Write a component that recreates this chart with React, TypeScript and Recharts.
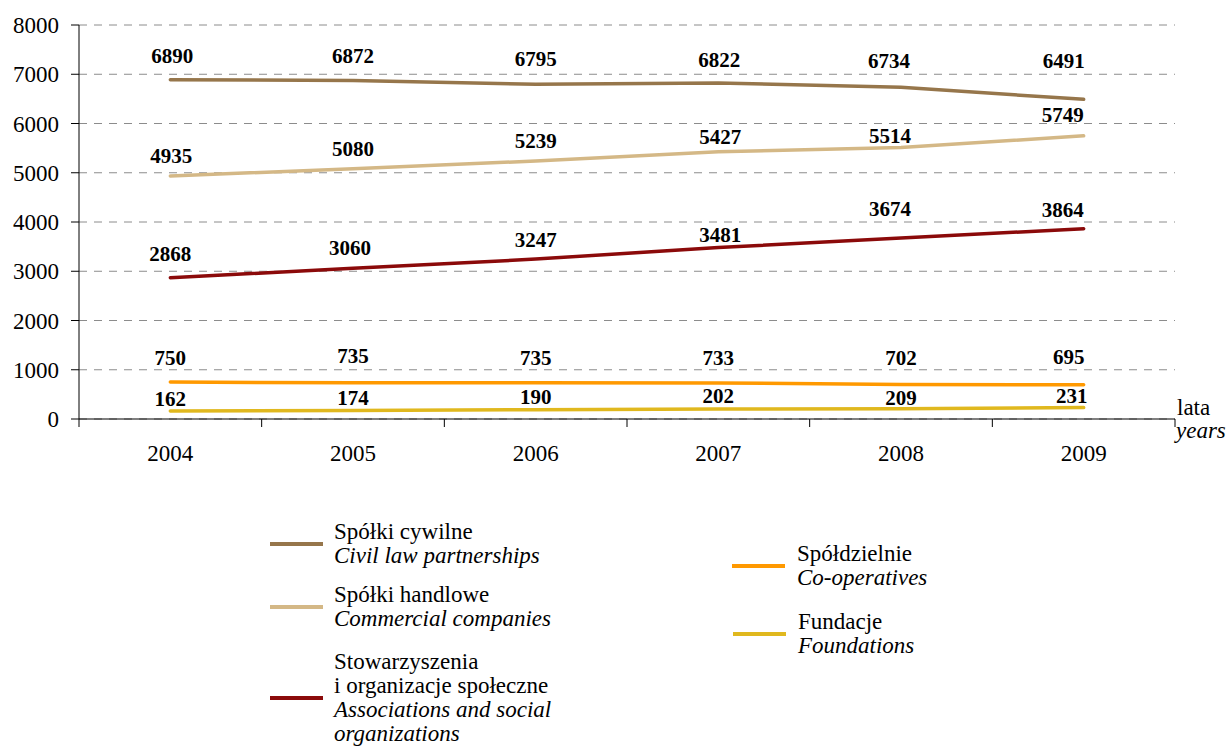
import { LineChart, Line, XAxis, YAxis, CartesianGrid, LabelList } from 'recharts'

const years = ['2004', '2005', '2006', '2007', '2008', '2009']
const civilPartnerships = [6890, 6872, 6795, 6822, 6734, 6491]
const commercialCompanies = [4935, 5080, 5239, 5427, 5514, 5749]
const associations = [2868, 3060, 3247, 3481, 3674, 3864]
const cooperatives = [750, 735, 735, 733, 702, 695]
const foundations = [162, 174, 190, 202, 209, 231]
const yTicks = [0, 1000, 2000, 3000, 4000, 5000, 6000, 7000, 8000]

const FONT = "'Liberation Serif', 'Times New Roman', serif"
const W = 1230
const H = 470
const MARGIN = { top: 25, right: 55, left: 19, bottom: 21 }
const Y_AXIS_W = 60
const PLOT_W = W - MARGIN.left - Y_AXIS_W - MARGIN.right
const BAND = PLOT_W / years.length

const data = years.map((year, i) => ({
  year,
  civil: civilPartnerships[i],
  commercial: commercialCompanies[i],
  assoc: associations[i],
  coop: cooperatives[i],
  found: foundations[i],
}))

// label nudges copied by eye from the original (it was hand-placed)
const series = [
  { key: 'civil', color: '#96764b', pl: 'Spółki cywilne', en: 'Civil law partnerships', gap: [17, 18, 18, 16, 19, 31], shift: [2, 0, 0, 1, -12, -20] },
  { key: 'commercial', color: '#d4b886', pl: 'Spółki handlowe', en: 'Commercial companies', gap: [13, 13, 13, 8, 4, 14], shift: [1, 0, 0, 2, -11, -21] },
  { key: 'assoc', color: '#8b0a0a', pl: 'Stowarzyszenia\ni organizacje społeczne', en: 'Associations and social\norganizations', gap: [17, 13, 12, 6, 22, 12], shift: [0, -3, 0, 2, -11, -21] },
  { key: 'coop', color: '#ff9900', pl: 'Spółdzielnie', en: 'Co-operatives', gap: [17, 20, 18, 18, 19, 21], shift: [0, 0, 0, 0, 0, -15] },
  { key: 'found', color: '#e0b81e', pl: 'Fundacje', en: 'Foundations', gap: [5, 5, 6, 6, 4, 5], shift: [0, 0, 0, 0, 0, -12] },
]

const legendSlots: Record<string, { left: number; top: number; gapText: number }> = {
  civil: { left: 270, top: 520, gapText: 11 },
  commercial: { left: 270, top: 583, gapText: 11 },
  assoc: { left: 270, top: 650, gapText: 11 },
  coop: { left: 732, top: 542, gapText: 12 },
  found: { left: 733, top: 610, gapText: 12 },
}

function valueLabel(gap: number[], shift: number[]) {
  return (props: any) => {
    const { x, y, value, index } = props
    return (
      <text
        x={x + (shift[index] ?? 0)}
        y={y - (gap[index] ?? 12)}
        textAnchor="middle"
        fontFamily={FONT}
        fontWeight="bold"
        fontSize={21}
        fill="#000"
      >
        {value}
      </text>
    )
  }
}

function YearTick(props: any) {
  const { x, y, payload, index } = props
  const last = index === years.length - 1
  return (
    <g>
      <line x1={x - BAND / 2} x2={x - BAND / 2} y1={y} y2={y + 8} stroke="#000" />
      {last && <line x1={x + BAND / 2} x2={x + BAND / 2} y1={y} y2={y + 8} stroke="#000" />}
      <text x={x} y={y + 42} textAnchor="middle" fontFamily={FONT} fontSize={23} fill="#000">
        {payload.value}
      </text>
    </g>
  )
}

function AxisName(props: any) {
  const { viewBox } = props
  const x = viewBox.x + viewBox.width + 2
  return (
    <text fontFamily={FONT} fontSize={23} fill="#000">
      <tspan x={x} y={viewBox.y - 4}>lata</tspan>
      <tspan x={x - 1} y={viewBox.y + 19} fontStyle="italic">years</tspan>
    </text>
  )
}

export default function App() {
  return (
    <div style={{ position: 'absolute', left: 0, top: 0, width: W, height: 749, background: '#fff', fontFamily: FONT }}>
      <LineChart width={W} height={H} data={data} margin={MARGIN}>
        <CartesianGrid vertical={false} stroke="#8c8c8c" strokeDasharray="8 7" />
        <XAxis
          dataKey="year"
          padding={{ left: BAND / 2, right: BAND / 2 }}
          axisLine={{ stroke: '#000' }}
          tickLine={false}
          tickSize={0}
          tickMargin={0}
          interval={0}
          tick={<YearTick />}
          label={<AxisName />}
        />
        <YAxis
          width={Y_AXIS_W}
          domain={[0, 8000]}
          ticks={yTicks}
          interval={0}
          axisLine={{ stroke: '#000' }}
          tickLine={{ stroke: '#000' }}
          tickSize={8}
          tickMargin={12}
          tick={{ fontFamily: FONT, fontSize: 23, fill: '#000' }}
        />
        {series.map(s => (
          <Line
            key={s.key}
            type="linear"
            dataKey={s.key}
            stroke={s.color}
            strokeWidth={3.5}
            strokeLinecap="round"
            dot={false}
            activeDot={false}
            isAnimationActive={false}
          >
            <LabelList dataKey={s.key} content={valueLabel(s.gap, s.shift)} />
          </Line>
        ))}
      </LineChart>

      {series.map(s => {
        const slot = legendSlots[s.key]
        return (
          <div
            key={s.key}
            style={{ position: 'absolute', left: slot.left, top: slot.top, display: 'flex', alignItems: 'center' }}
          >
            <div style={{ width: 53, height: 4, background: s.color, marginRight: slot.gapText, flexShrink: 0 }} />
            <div style={{ fontSize: 23, lineHeight: '24px', color: '#000', whiteSpace: 'pre' }}>
              <div>{s.pl}</div>
              <div style={{ fontStyle: 'italic' }}>{s.en}</div>
            </div>
          </div>
        )
      })}
    </div>
  )
}
